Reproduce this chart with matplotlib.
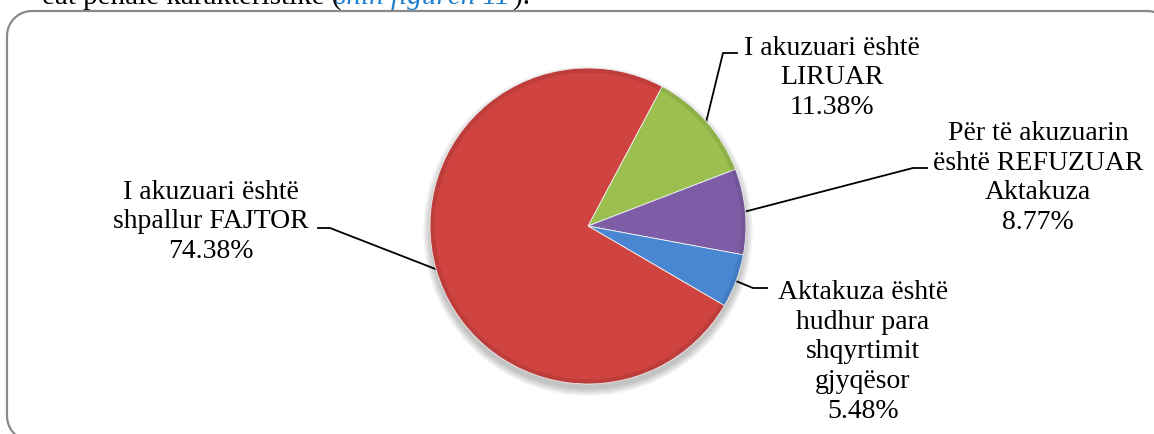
import matplotlib.pyplot as plt
from matplotlib.patches import Circle, Wedge
import numpy as np

plt.rcParams['font.family'] = ['Liberation Serif', 'DejaVu Serif']

# data
labels = ['I akuzuari është\nLIRUAR',
          'Për të akuzuarin\nështë REFUZUAR\nAktakuza',
          'Aktakuza është\nhudhur para\nshqyrtimit\ngjyqësor',
          'I akuzuari është\nshpallur FAJTOR']
values = [11.38, 8.77, 5.48, 74.38]
colors = ['#9BC04F', '#7D5EA6', '#4A87D2', '#CF4340']

W, H = 1154, 434
fig = plt.figure(figsize=(W / 100, H / 100), dpi=100)

# background axes in pixel units (frame, leaders, labels)
bg = fig.add_axes([0, 0, 1, 1])
bg.set_xlim(0, W)
bg.set_ylim(H, 0)
bg.axis('off')


def rounded_rect(x0, y0, x1, y1, rad, n=20):
    t = np.linspace(0, np.pi / 2, n)
    xs, ys = [], []
    corners = [(x1 - rad, y0 + rad, -np.pi / 2), (x1 - rad, y1 - rad, 0),
               (x0 + rad, y1 - rad, np.pi / 2), (x0 + rad, y0 + rad, np.pi)]
    for ccx, ccy, a0 in corners:
        xs.extend(ccx + rad * np.cos(a0 + t))
        ys.extend(ccy + rad * np.sin(a0 + t))
    xs.append(xs[0])
    ys.append(ys[0])
    return xs, ys


fx, fy = rounded_rect(7, 11, 1172, 441, 25)
bg.plot(fx, fy, color='#8a8a8a', lw=1.6, clip_on=False)

# cut off sentence above the chart
bg.text(341, 4, 'ëat penale karakteristike (', fontsize=21, color='black',
        va='baseline', ha='right')
bg.text(510, 4, 'shih figurën 11', fontsize=21, style='italic',
        color='#1F7FD0', va='baseline', ha='right')
bg.text(513, 4, ').', fontsize=21, color='black', va='baseline', ha='left')

cx, cy, r = 588, 226, 158

# soft shadow under the pie
for i in range(8):
    bg.add_patch(Circle((cx, cy + 5), r + 1.0 * i, color='black',
                        alpha=0.03, lw=0, zorder=0))

ax = fig.add_axes([(cx - r) / W, (H - cy - r) / H, 2 * r / W, 2 * r / H])
wedges, _ = ax.pie(values, colors=colors, startangle=62, counterclock=False,
                   radius=1, wedgeprops=dict(edgecolor='#f4f4f4', linewidth=0.6))
# bevel-ish darker rim
for w in wedges:
    ax.add_patch(Wedge((0, 0), 1, w.theta1, w.theta2, width=0.03,
                       facecolor='black', alpha=0.08, lw=0))
ax.set_xlim(-1, 1)
ax.set_ylim(-1, 1)
ax.axis('off')

# labels with leader lines
pct = [f'{v:.2f}%' for v in values]
text_pos = [(832, 78), (1038, 178), (863, 352), (211, 222)]
elbows = [[(723, 53), (737, 53)],
          [(913, 168), (927, 168)],
          [(753, 288), (767, 288)],
          [(330, 228), (318, 228)]]

for w, lab, p, tp, el in zip(wedges, labels, pct, text_pos, elbows):
    ang = np.deg2rad((w.theta1 + w.theta2) / 2)
    xs = [cx + r * np.cos(ang)] + [e[0] for e in el]
    ys = [cy - r * np.sin(ang)] + [e[1] for e in el]
    bg.plot(xs, ys, color='black', lw=1.3, zorder=3)
    bg.text(tp[0], tp[1], lab + '\n' + p, ha='center', va='center',
            fontsize=20, linespacing=1.25)

plt.savefig('out.png', dpi=100, facecolor='white')
